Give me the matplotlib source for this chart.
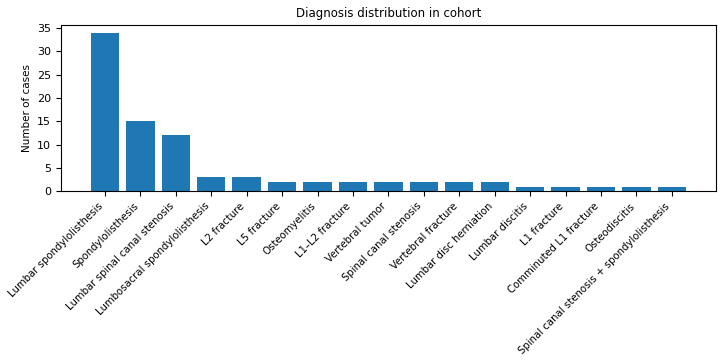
import matplotlib
matplotlib.use("Agg")
import matplotlib.pyplot as plt
from matplotlib.ticker import MultipleLocator

diagnoses = [
    "Lumbar spondylolisthesis",
    "Spondylolisthesis",
    "Lumbar spinal canal stenosis",
    "Lumbosacral spondylolisthesis",
    "L2 fracture",
    "L5 fracture",
    "Osteomyelitis",
    "L1\u2013L2 fracture",
    "Vertebral tumor",
    "Spinal canal stenosis",
    "Vertebral fracture",
    "Lumbar disc herniation",
    "Lumbar discitis",
    "L1 fracture",
    "Comminuted L1 fracture",
    "Osteodiscitis",
    "Spinal canal stenosis + spondylolisthesis",
]
cases = [34, 15, 12, 3, 3, 2, 2, 2, 2, 2, 2, 2, 1, 1, 1, 1, 1]

fig = plt.figure(figsize=(7.26, 3.6), dpi=100)
ax = fig.add_axes([0.084, 0.469, 0.902, 0.462])
ax.bar(diagnoses, cases, color="#1f77b4")
ax.set_title("Diagnosis distribution in cohort", fontsize=8.5)
ax.set_ylabel("Number of cases", fontsize=7.5)
ax.yaxis.set_major_locator(MultipleLocator(5))
ax.tick_params(axis="y", labelsize=8)
ax.tick_params(axis="x", labelsize=7.3)
plt.setp(ax.get_xticklabels(), rotation=45, ha="right")

fig.savefig("out.png", dpi=100)
